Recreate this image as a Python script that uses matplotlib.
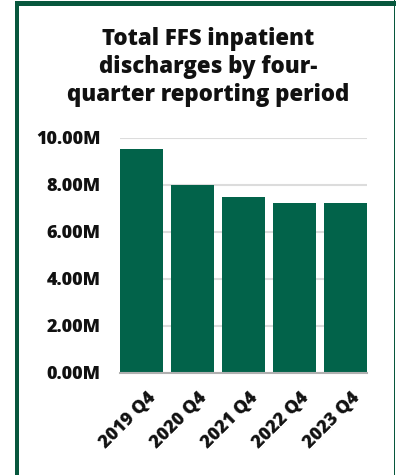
import matplotlib
matplotlib.use("Agg")
import matplotlib.pyplot as plt
import matplotlib.transforms as mtransforms
from matplotlib.patches import Rectangle
from matplotlib.ticker import FuncFormatter, MultipleLocator

periods = ["2019 Q4", "2020 Q4", "2021 Q4", "2022 Q4", "2023 Q4"]
discharges_m = [9.51, 7.98, 7.48, 7.21, 7.21]
title = "Total FFS inpatient\ndischarges by four-\nquarter reporting period"

W, H = 396, 475
DPI = 100
GREEN = "#02634a"
FRAME = "#07573d"
FONT = ["Open Sans", "DejaVu Sans"]

fig = plt.figure(figsize=(W / DPI, H / DPI), dpi=DPI)
fig.patch.set_facecolor("white")


def fx(px):
    return px / W


def fy(py):
    return 1 - py / H


# panel frame: thick left and top edges, thin right edge
fig.add_artist(Rectangle((fx(15), fy(475)), fx(4), 473 / H, transform=fig.transFigure,
                         facecolor=FRAME, edgecolor="none", zorder=5))
fig.add_artist(Rectangle((fx(15), fy(6)), fx(381), 5.5 / H, transform=fig.transFigure,
                         facecolor=FRAME, edgecolor="none", zorder=5))
fig.add_artist(Rectangle((fx(393.5), fy(475)), fx(1.5), 1, transform=fig.transFigure,
                         facecolor=FRAME, edgecolor="none", zorder=5))

fig.text(fx(208), fy(67), title, ha="center", va="center", family=FONT,
         fontweight=800, fontsize=16, linespacing=1.2, color="#111111")

ax = fig.add_axes([fx(120), fy(372.5), fx(367) - fx(120), (372.5 - 137.7) / H])
width = 43 / 51
x = range(len(periods))
ax.bar(x, discharges_m, width=width, color=GREEN, zorder=2)
ax.set_xlim(-width / 2, len(periods) - 1 + width / 2)
ax.set_ylim(0, 10)
ax.yaxis.set_major_locator(MultipleLocator(2))
ax.yaxis.set_major_formatter(FuncFormatter(lambda v, _: f"{v:.2f}M"))
ax.grid(axis="y", color="#dcdcdc", linewidth=1.5, zorder=0)
ax.set_axisbelow(True)
for side in ("top", "right", "left"):
    ax.spines[side].set_visible(False)
ax.spines["bottom"].set_color("#b0b0b0")
ax.spines["bottom"].set_linewidth(1.5)
ax.spines["bottom"].set_zorder(3)
ax.tick_params(axis="both", length=0)
ax.tick_params(axis="y", pad=14)
ax.tick_params(axis="x", pad=12)
ax.set_xticks(list(x))
ax.set_xticklabels(periods, rotation=45, ha="right", rotation_mode="anchor")
for lab in ax.get_yticklabels() + ax.get_xticklabels():
    lab.set_family(FONT)
    lab.set_fontweight(800)
    lab.set_fontsize(13)
    lab.set_color("#111111")

# nudge the slanted period labels to the right
shift = mtransforms.ScaledTranslation(6 / DPI, 0, fig.dpi_scale_trans)
for lab in ax.get_xticklabels():
    lab.set_transform(lab.get_transform() + shift)

fig.savefig("out.png", dpi=DPI, facecolor="white")
